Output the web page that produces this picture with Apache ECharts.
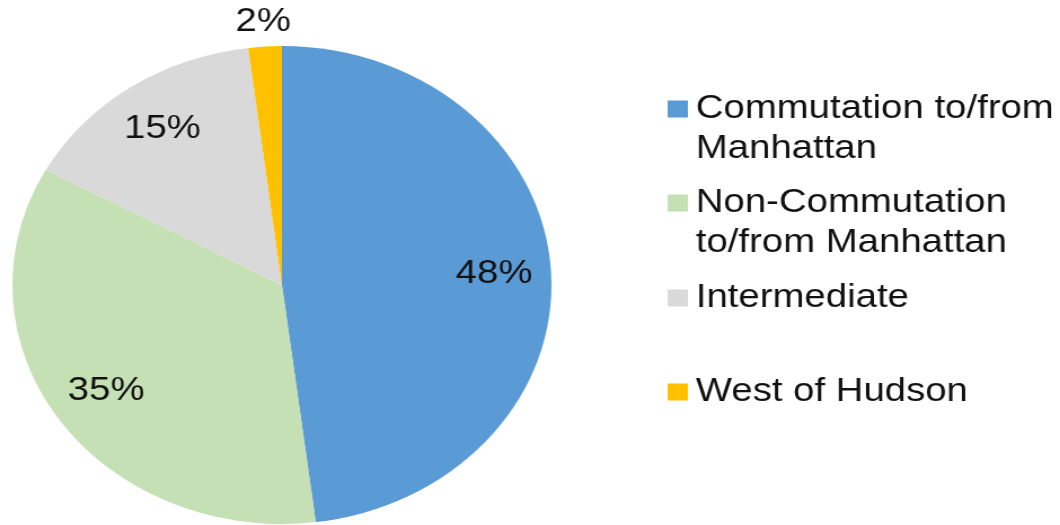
<!DOCTYPE html>
<html>
<head>
<meta charset="utf-8">
<script src="https://cdn.jsdelivr.net/npm/echarts@6/dist/echarts.min.js"></script>
<style>
  html, body { margin: 0; padding: 0; background: #ffffff; overflow: hidden; }
  /* the chart is drawn 940px wide and widened to the 1060px page */
  #chart { width: 940px; height: 525px; transform: scaleX(1.1277); transform-origin: 0 0; }
</style>
</head>
<body>
<div id="chart"></div>
<script>
// Trip shares by market segment
const categories = [
  'Commutation to/from Manhattan',
  'Non-Commutation to/from Manhattan',
  'Intermediate',
  'West of Hudson'
];
const legendLabels = [
  'Commutation to/from\nManhattan',
  'Non-Commutation\nto/from Manhattan',
  'Intermediate',
  'West of Hudson'
];
const shares = [48, 35, 15, 2];
const colors = ['#5B9BD5', '#C5E0B4', '#D9D9D9', '#FFC000'];

const FONT = '"Liberation Sans", Arial, sans-serif';
const TEXT = '#111111';
const CENTER = [250, 285];
const R = 239;

const slices = categories.map((name, i) => ({ name, value: shares[i], itemStyle: { color: colors[i] } }));

// value labels sitting inside the larger slices
const innerLabels = categories.map((name, i) => ({
  name, value: shares[i],
  label: { show: shares[i] >= 5 }
}));
// value labels just outside the rim for thin slices
const outerLabels = categories.map((name, i) => ({
  name, value: shares[i],
  label: { show: shares[i] < 5 }
}));

const labelStyle = {
  position: 'inside',
  formatter: '{c}%',
  fontFamily: FONT,
  fontSize: 34,
  color: TEXT
};

const legendTops = [49, 143, 278, 372];
const legends = categories.map((name, i) => ({
  data: [name],
  orient: 'vertical',
  left: 592,
  top: legendTops[i],
  padding: 0,
  itemWidth: 18,
  itemHeight: 17,
  icon: 'rect',
  selectedMode: false,
  formatter: () => legendLabels[i].indexOf('\n') >= 0 ? '\n' + legendLabels[i] : legendLabels[i],
  textStyle: { fontFamily: FONT, fontSize: 34, lineHeight: 40, color: TEXT, padding: [0, 0, 0, 2] }
}));

const chart = echarts.init(document.getElementById('chart'));
chart.setOption({
  animation: false,
  legend: legends,
  series: [
    {
      type: 'pie',
      center: CENTER,
      radius: R,
      startAngle: 90,
      clockwise: true,
      silent: true,
      label: { show: false },
      labelLine: { show: false },
      data: slices
    },
    {
      type: 'pie',
      center: CENTER,
      radius: [132, R],
      startAngle: 90,
      clockwise: true,
      silent: true,
      itemStyle: { color: 'rgba(0,0,0,0)' },
      label: labelStyle,
      labelLine: { show: false },
      emphasis: { disabled: true },
      data: innerLabels
    },
    {
      type: 'pie',
      center: CENTER,
      radius: [R, R + 44],
      startAngle: 90,
      clockwise: true,
      silent: true,
      itemStyle: { color: 'rgba(0,0,0,0)' },
      label: labelStyle,
      labelLine: { show: false },
      emphasis: { disabled: true },
      data: outerLabels
    }
  ]
});
</script>
</body>
</html>
